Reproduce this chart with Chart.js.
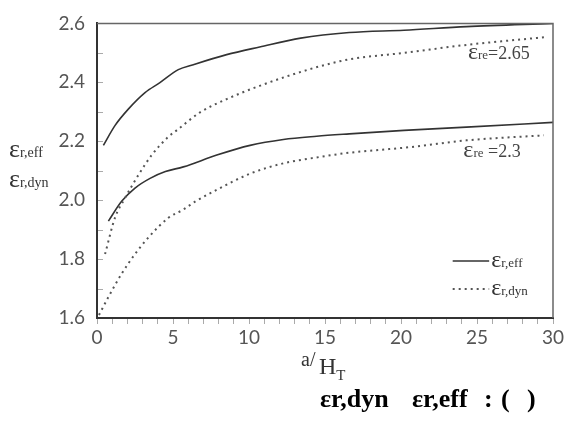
<!DOCTYPE html>
<html>
<head>
<meta charset="utf-8">
<script src="https://cdn.jsdelivr.net/npm/chart.js@4.4.0/dist/chart.umd.min.js"></script>
<style>
  html, body { margin: 0; padding: 0; background: #fff; }
  #wrap { width: 574px; height: 423px; }
</style>
</head>
<body>
<div id="wrap"><canvas id="c" width="574" height="423"></canvas></div>
<script>
// values (a/H_T -> epsilon)
const aEffHigh = [0.42, 1.18, 2.06, 3.16, 4.14, 5.35, 6.34, 8.53, 10.7, 13.4, 16.6, 20.2, 24.3, 30];
const effHigh  = [2.186, 2.253, 2.309, 2.365, 2.399, 2.443, 2.46, 2.494, 2.52, 2.55, 2.569, 2.577, 2.589, 2.6];

const aDynHigh = [0.53, 1.18, 1.84, 2.72, 3.6, 4.69, 5.24, 6.78, 8.53, 10.7, 12.9, 14.7, 16.6, 20.2, 24.3, 29.4];
const dynHigh  = [1.817, 1.94, 2.007, 2.085, 2.153, 2.215, 2.237, 2.298, 2.343, 2.388, 2.427, 2.455, 2.478, 2.5, 2.527, 2.553];

const aEffLow = [0.75, 1.62, 2.5, 3.49, 4.5, 5.68, 7.88, 10.07, 12.26, 14.45, 16.6, 20.2, 24.3, 30];
const effLow  = [1.929, 1.996, 2.041, 2.074, 2.097, 2.113, 2.153, 2.186, 2.206, 2.217, 2.225, 2.237, 2.248, 2.264];

const aDynLow = [0.13, 0.75, 1.62, 2.5, 3.38, 4.69, 5.68, 6.45, 7.88, 10.07, 12.26, 14.45, 16.6, 20.6, 24.3, 29.4];
const dynLow  = [1.61, 1.671, 1.75, 1.817, 1.873, 1.94, 1.968, 1.995, 2.035, 2.09, 2.125, 2.145, 2.161, 2.18, 2.203, 2.22];

const xTickLabels = [0, 5, 10, 15, 20, 25, 30];
const yTickLabels = ['1.6', '1.8', '2.0', '2.2', '2.4', '2.6'];

const SERIF = '"Liberation Serif", "DejaVu Serif", serif';
const SANS = 'Lato, "DejaVu Sans", sans-serif';

function pts(xs, ys) {
  return xs.map((x, i) => ({ x: x, y: ys[i] }));
}

// draw a run of text pieces one after another: [text, font, dy]
function drawRun(ctx, x, y, parts, color) {
  ctx.fillStyle = color || '#333';
  ctx.textAlign = 'left';
  ctx.textBaseline = 'alphabetic';
  let cx = x;
  parts.forEach(p => {
    ctx.font = p[1];
    ctx.fillText(p[0], cx, y + (p[2] || 0));
    cx += ctx.measureText(p[0]).width;
  });
  return cx;
}

/* ---------------------------
   Decorations plugin
   --------------------------- */
const decorPlugin = {
  id: 'decor',
  afterDraw(chart) {
    const ctx = chart.ctx;
    const area = chart.chartArea;
    const xs = chart.scales.x;
    const ys = chart.scales.y;
    ctx.save();

    // top and right frame
    ctx.strokeStyle = '#666';
    ctx.lineWidth = 1.5;
    ctx.beginPath();
    ctx.moveTo(area.left, area.top);
    ctx.lineTo(area.right, area.top);
    ctx.lineTo(area.right, area.bottom);
    ctx.stroke();

    // inner y ticks every 0.1
    ctx.strokeStyle = '#aaa';
    ctx.lineWidth = 1;
    for (let k = 1; k < 10; k++) {
      const y = Math.round(ys.getPixelForValue(1.6 + k * 0.1)) + 0.5;
      ctx.beginPath();
      ctx.moveTo(area.left + 1, y);
      ctx.lineTo(area.left + 6, y);
      ctx.stroke();
    }

    // curve labels
    drawRun(ctx, xs.getPixelForValue(24.4), ys.getPixelForValue(2.48), [
      ['ε', '24px ' + SERIF], ['re', '13px ' + SERIF], ['=2.65', '18px ' + SERIF]
    ], '#444');
    drawRun(ctx, xs.getPixelForValue(24.1), ys.getPixelForValue(2.145), [
      ['ε', '24px ' + SERIF], ['re', '13px ' + SERIF], [' =2.3', '18px ' + SERIF]
    ], '#444');

    // legend
    const lx0 = xs.getPixelForValue(23.4), lx1 = xs.getPixelForValue(25.8);
    const ly1 = 261, ly2 = 289;
    ctx.strokeStyle = '#333';
    ctx.lineWidth = 1.6;
    ctx.beginPath(); ctx.moveTo(lx0, ly1); ctx.lineTo(lx1, ly1); ctx.stroke();
    ctx.strokeStyle = '#555';
    ctx.lineWidth = 2;
    ctx.setLineDash([2, 4]);
    ctx.beginPath(); ctx.moveTo(lx0, ly2); ctx.lineTo(lx1, ly2); ctx.stroke();
    ctx.setLineDash([]);
    drawRun(ctx, lx1 + 2, ly1 + 6, [['ε', '24px ' + SERIF], ['r,eff', '13px ' + SERIF]], '#333');
    drawRun(ctx, lx1 + 2, ly2 + 6, [['ε', '24px ' + SERIF], ['r,dyn', '13px ' + SERIF]], '#333');

    // y axis title
    drawRun(ctx, 9, 157, [['ε', '26px ' + SERIF], ['r,eff', '14px ' + SERIF]], '#333');
    drawRun(ctx, 9, 187, [['ε', '26px ' + SERIF], ['r,dyn', '14px ' + SERIF]], '#333');

    // x axis title a/H_T
    drawRun(ctx, 301, 366, [['a/', '20px ' + SERIF]], '#333');
    drawRun(ctx, 319, 374, [['H', '24px ' + SERIF], ['T', '15px ' + SERIF, 6]], '#333');

    // caption
    const cap = 'bold 26px ' + SERIF;
    drawRun(ctx, 320, 407, [['εr,dyn', cap]], '#000');
    drawRun(ctx, 412, 407, [['εr,eff', cap]], '#000');
    drawRun(ctx, 484, 407, [[':', cap]], '#000');
    drawRun(ctx, 501, 407, [['(', cap]], '#000');
    drawRun(ctx, 527, 407, [[')', cap]], '#000');

    ctx.restore();
  }
};

const solidStyle = {
  borderColor: '#333',
  borderWidth: 1.6,
  pointRadius: 0,
  tension: 0.4,
  cubicInterpolationMode: 'monotone',
  fill: false
};
const dottedStyle = Object.assign({}, solidStyle, {
  borderColor: '#555',
  borderWidth: 2,
  borderDash: [2, 4]
});

new Chart(document.getElementById('c').getContext('2d'), {
  type: 'line',
  data: {
    datasets: [
      Object.assign({ label: 'εr,eff (εre=2.65)', data: pts(aEffHigh, effHigh) }, solidStyle),
      Object.assign({ label: 'εr,dyn (εre=2.65)', data: pts(aDynHigh, dynHigh) }, dottedStyle),
      Object.assign({ label: 'εr,eff (εre=2.3)', data: pts(aEffLow, effLow) }, solidStyle),
      Object.assign({ label: 'εr,dyn (εre=2.3)', data: pts(aDynLow, dynLow) }, dottedStyle)
    ]
  },
  options: {
    responsive: false,
    devicePixelRatio: 1,
    animation: false,
    layout: { padding: { top: 20, right: 21, left: 0, bottom: 0 } },
    plugins: {
      legend: { display: false },
      tooltip: { enabled: false }
    },
    scales: {
      x: {
        type: 'linear',
        min: 0,
        max: 30,
        afterFit: s => { s.height = 105; },
        ticks: {
          stepSize: 1,
          autoSkip: false,
          maxRotation: 0,
          padding: 2,
          color: '#555',
          font: { family: SANS, size: 19 },
          callback: v => xTickLabels.includes(v) ? String(v) : ''
        },
        grid: { display: true, drawOnChartArea: false, drawTicks: true, tickLength: 6, color: '#aaa' },
        border: { display: true, color: '#333', width: 2 }
      },
      y: {
        min: 1.6,
        max: 2.6,
        afterFit: s => { s.width = 97; },
        ticks: {
          stepSize: 0.2,
          padding: 12,
          color: '#555',
          font: { family: SANS, size: 19 },
          callback: v => {
            const k = Math.round(v * 10);
            const t = (k / 10).toFixed(1);
            return yTickLabels.includes(t) ? t : '';
          }
        },
        grid: { display: false, drawTicks: false },
        border: { display: true, color: '#333', width: 2 }
      }
    }
  },
  plugins: [decorPlugin]
});
</script>
</body>
</html>
